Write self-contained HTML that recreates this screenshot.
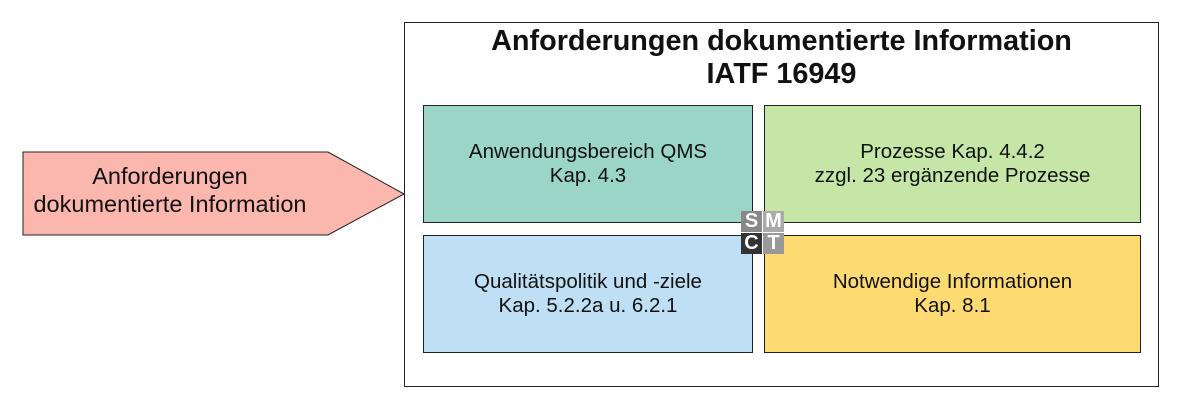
<!DOCTYPE html>
<html><head><style>
body{margin:0;width:1180px;height:411px;background:#fff;font-family:"Liberation Sans",sans-serif;position:relative;overflow:hidden}
.b{position:absolute;box-sizing:border-box;border:1px solid #222;display:flex;align-items:center;justify-content:center;text-align:center;font-size:20.5px;line-height:24px;color:#111}
.t{position:absolute;left:404px;width:755px;top:25px;text-align:center;font-weight:bold;font-size:28.8px;line-height:33px;color:#111}
.l{position:absolute;font-weight:bold;font-size:20px;color:#fff;display:flex;align-items:center;justify-content:center;width:21px;height:21px}
</style></head><body>
<div style="position:absolute;left:404px;top:22px;width:755px;height:365px;box-sizing:border-box;border:1px solid #222"></div>
<div class="t">Anforderungen dokumentierte Information<br>IATF 16949</div>
<div class="b" style="left:423px;top:105px;width:330px;height:118px;background:#9ad5c8">Anwendungsbereich QMS<br>Kap. 4.3</div>
<div class="b" style="left:764px;top:105px;width:377px;height:118px;background:#c5e6a6">Prozesse Kap. 4.4.2<br>zzgl. 23 ergänzende Prozesse</div>
<div class="b" style="left:423px;top:235px;width:330px;height:118px;background:#bfe0f4">Qualitätspolitik und -ziele<br>Kap. 5.2.2a u. 6.2.1</div>
<div class="b" style="left:764px;top:235px;width:377px;height:118px;background:#fedb72">Notwendige Informationen<br>Kap. 8.1</div>
<div class="l" style="left:741px;top:211px;background:#888">S</div>
<div class="l" style="left:763px;top:211px;background:#aaa">M</div>
<div class="l" style="left:741px;top:233px;background:#333">C</div>
<div class="l" style="left:763px;top:233px;background:#999">T</div>
<svg style="position:absolute;left:0;top:0" width="1180" height="411"><polygon points="23,152 328,152 404,194 328,235 23,235" fill="#fbb6ae" stroke="#222" stroke-width="1"/>
<text x="170" y="184" font-family="Liberation Sans" font-size="23.5" text-anchor="middle" fill="#111">Anforderungen</text>
<text x="170" y="212" font-family="Liberation Sans" font-size="23.5" text-anchor="middle" fill="#111">dokumentierte Information</text></svg>
</body></html>
